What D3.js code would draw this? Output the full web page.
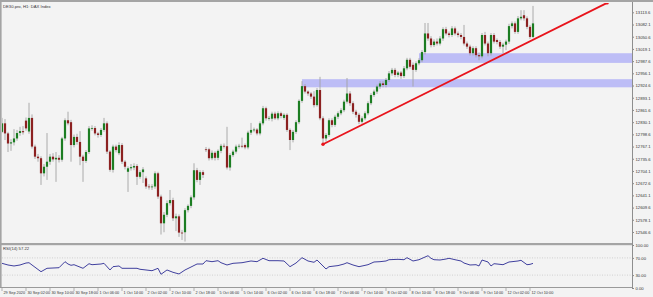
<!DOCTYPE html>
<html>
<head>
<meta charset="utf-8">
<script src="https://cdn.jsdelivr.net/npm/d3@7"></script>
<style>
body { margin: 0; background: #f3f3f3; }
svg { display: block; }
text { font-family: "Liberation Sans", Arial, sans-serif; font-size: 4.2px; fill: #333; }
</style>
</head>
<body>
<svg id="chart" width="653" height="297"></svg>
<script>
// H1 candles, DE30 (DAX), 29 Sep - 12 Oct 2020
var opens = [
  12805,12827,12801,12775,12778,12788,12802,12807,12834,12806,
  12841,12767,12741,12737,12698,12715,12728,12741,12734,12738,
  12733,12788,12835,12830,12771,12792,12779,12741,12730,12753,
  12814,12815,12801,12797,12810,12827,12754,12707,12767,12750,
  12771,12728,12702,12711,12713,12717,12689,12701,12685,12664,
  12663,12664,12698,12638,12569,12591,12621,12629,12582,12587,
  12545,12546,12603,12614,12636,12706,12681,12701,12760,12760,
  12737,12751,12738,12756,12769,12768,12713,12745,12754,12767,
  12769,12771,12765,12803,12810,12811,12801,12827,12866,12840,
  12839,12852,12840,12853,12841,12849,12810,12784,12805,12830,
  12885,12923,12909,12904,12896,12874,12913,12840,12788,12797,
  12835,12823,12844,12853,12861,12883,12904,12879,12857,12849,
  12831,12840,12853,12879,12900,12909,12922,12930,12926,12939,
  12956,12965,12952,12958,12949,12969,12991,12978,12965,12982,
  12990,13011,13059,13046,13029,13038,13033,13046,13070,13059,
  13055,13072,13059,13055,13050,13033,13025,13008,13021,13003,
  13000,13055,13033,13008,13055,13042,13037,13025,13030,13038,
  13078,13085,13063,13098,13106,13098,13076,13050
];
var highs = [
  12841,12838,12805,12786,12812,12810,12818,12820,12842,12880,
  12850,12772,12748,12742,12722,12802,12748,12750,12753,12745,
  12792,12840,12857,12836,12798,12800,12807,12746,12758,12820,
  12822,12820,12805,12815,12841,12832,12758,12772,12772,12778,
  12776,12732,12716,12722,12724,12722,12706,12714,12690,12670,
  12670,12703,12702,12643,12598,12628,12655,12635,12594,12592,
  12552,12608,12618,12641,12724,12712,12706,12706,12766,12764,
  12757,12755,12760,12774,12775,12818,12750,12759,12772,12774,
  12790,12775,12808,12828,12816,12815,12832,12872,12870,12846,
  12857,12857,12858,12857,12853,12853,12814,12810,12835,12889,
  12936,12928,12912,12908,12910,12918,12947,12845,12802,12840,
  12840,12849,12858,12866,12888,12944,12910,12884,12862,12854,
  12845,12858,12884,12905,12914,12927,12936,12936,12944,12962,
  12970,12970,12962,12962,12975,12996,12996,12984,12987,12995,
  13016,13086,13086,13052,13044,13046,13052,13075,13076,13064,
  13078,13077,13064,13060,13081,13038,13030,13026,13026,13010,
  13060,13063,13038,13060,13060,13046,13042,13035,13043,13084,
  13090,13090,13104,13119,13119,13103,13081,13130
];
var lows = [
  12802,12784,12753,12756,12770,12782,12795,12798,12808,12800,
  12762,12735,12728,12668,12690,12681,12720,12728,12676,12726,
  12728,12782,12822,12728,12765,12772,12719,12676,12725,12748,
  12808,12796,12790,12792,12805,12748,12702,12700,12752,12745,
  12722,12708,12650,12705,12706,12668,12684,12673,12658,12656,
  12655,12658,12632,12540,12546,12585,12615,12575,12549,12534,
  12526,12522,12597,12608,12630,12675,12668,12686,12753,12731,
  12732,12731,12732,12750,12762,12708,12705,12740,12749,12762,
  12763,12760,12760,12797,12804,12796,12796,12822,12834,12834,
  12832,12836,12835,12840,12836,12805,12758,12778,12800,12825,
  12880,12904,12898,12890,12868,12870,12835,12776,12780,12792,
  12817,12818,12838,12848,12856,12878,12872,12851,12842,12825,
  12826,12835,12848,12874,12895,12903,12916,12920,12920,12934,
  12950,12946,12946,12942,12944,12964,12968,12922,12960,12977,
  12985,13005,13040,13023,13024,13028,13028,13040,13054,13049,
  13050,13054,13049,13044,13028,13019,13002,13002,12997,12990,
  12995,13028,13000,13002,13033,13031,13019,13008,13016,13032,
  13072,13058,13058,13093,13092,13070,13045,13047
];
var closes = [
  12827,12801,12775,12778,12788,12802,12807,12804,12814,12841,
  12767,12741,12737,12698,12715,12728,12741,12734,12738,12733,
  12788,12835,12827,12771,12792,12779,12741,12730,12753,12814,
  12815,12801,12797,12810,12827,12754,12707,12767,12758,12771,
  12728,12715,12711,12714,12717,12689,12701,12708,12664,12663,
  12664,12698,12638,12569,12591,12621,12629,12582,12587,12545,
  12543,12603,12614,12636,12706,12681,12701,12694,12759,12737,
  12751,12738,12756,12769,12768,12713,12745,12754,12767,12769,
  12768,12765,12803,12810,12811,12801,12827,12866,12840,12841,
  12852,12840,12853,12846,12849,12810,12784,12805,12830,12885,
  12923,12909,12904,12896,12874,12913,12840,12788,12797,12835,
  12823,12844,12853,12861,12883,12904,12879,12857,12849,12831,
  12840,12853,12879,12900,12909,12922,12930,12926,12939,12956,
  12965,12952,12958,12949,12969,12991,12973,12965,12982,12990,
  13011,13059,13046,13029,13038,13033,13046,13070,13059,13055,
  13072,13059,13055,13050,13033,13025,13008,13021,13003,13000,
  13055,13033,13008,13055,13038,13037,13025,13030,13038,13078,
  13085,13063,13098,13102,13098,13076,13050,13085
];

// RSI(14) read at these bars
var rsiBars = [0,2,4,6,8,9,10,13,15,17,19,21,22,23,24,27,29,30,33,34,36,37,39,40,43,45,46,48,50,52,
  53,55,57,59,61,63,65,67,68,70,72,73,75,77,80,83,85,87,89,92,94,96,98,100,102,104,105,108,109,112,
  114,115,117,119,122,124,126,128,129,132,134,135,137,139,142,143,144,146,148,149,151,153,154,156,158,
  159,160,162,163,164,165,167,169,170,172,173,175,176,177];
var rsiValues = [57.4,53.5,51.2,53.5,58.1,58.8,53.5,37.9,45.8,46.5,47.2,61.2,55.8,52.8,54.2,45.8,56.5,54.2,55.8,57.4,
  41.9,49.6,51.2,45.8,45.8,45.8,43.5,41.9,40.2,45.8,31.9,41.9,36.5,32.6,41.9,48.8,55.8,55.8,63.5,61.2,
  63.5,58.8,53.5,57.4,58.8,62.8,61.2,69.1,63.5,63.5,62.8,49.6,58.1,70.5,62.8,59.8,65.1,44.2,49.6,52.1,
  55.8,58.8,53.5,49.6,54.2,60.5,61.2,62.8,65.8,66.7,65.8,70.5,62.8,65.8,75.1,69.1,65.8,65.1,67.4,69.1,
  65.8,62.8,58.1,53.5,54.2,51.2,65.1,60.5,51.2,56.5,55.8,54.2,60.5,61.2,62.8,64.4,54.2,55.0,57.22];

var priceTicks = [13113.6,13082.1,13050.6,13019.1,12987.6,12956.1,12924.6,12893.1,12861.6,12830.1,
  12798.6,12767.1,12735.6,12704.1,12672.6,12641.1,12609.6,12578.1,12546.6];
var rsiTicks = [100, 70, 30, 0];
var rsiLevels = [70, 30];
var timeLabels = ["29 Sep 2020","30 Sep 02:00","30 Sep 10:00","30 Sep 18:00","1 Oct 06:00","1 Oct 14:00",
  "2 Oct 02:00","2 Oct 10:00","2 Oct 18:00","5 Oct 06:00","5 Oct 14:00","6 Oct 02:00","6 Oct 10:00",
  "6 Oct 18:00","7 Oct 06:00","7 Oct 14:00","8 Oct 02:00","8 Oct 10:00","8 Oct 18:00","9 Oct 06:00",
  "9 Oct 14:00","12 Oct 02:00","12 Oct 10:00"];
var labelStep = 8;

// supply/demand zones: start bar, top, bottom
var zoneStarts = [139, 100];
var zoneTops = [13008, 12941];
var zoneBottoms = [12983, 12920];

// trend line: bar positions and prices
var trendBars = [107, 201.7];
var trendPrices = [12773, 13138];

var W = 653, H = 297;
var axisX = 632;
var mainTop = 3, mainBottom = 244;
var rsiTop = 245, rsiBottom = 288;

var svg = d3.select("#chart");

var x = d3.scaleLinear().domain([0, 177]).range([2, 533]);
var y = d3.scaleLinear().domain([12515.6, 13137.6]).range([mainBottom, mainTop]);
var yRsi = d3.scaleLinear().domain([0, 100]).range([rsiBottom, rsiTop]);

svg.append("rect").attr("width", W).attr("height", H).attr("fill", "#f3f3f3");

svg.append("clipPath").attr("id", "mainclip")
  .append("rect").attr("x", 2).attr("y", mainTop).attr("width", axisX - 2).attr("height", mainBottom - mainTop);

var main = svg.append("g").attr("clip-path", "url(#mainclip)");

// zones run to the right edge
main.selectAll(".zone").data(zoneStarts).enter().append("rect")
  .attr("x", function(d) { return x(d); })
  .attr("y", function(d, i) { return y(zoneTops[i]); })
  .attr("width", function(d) { return axisX - x(d); })
  .attr("height", function(d, i) { return y(zoneBottoms[i]) - y(zoneTops[i]); })
  .attr("fill", "#bdbdf6");

var idx = d3.range(opens.length);

main.selectAll(".wick").data(idx).enter().append("line")
  .attr("x1", function(i) { return x(i); })
  .attr("x2", function(i) { return x(i); })
  .attr("y1", function(i) { return y(highs[i]); })
  .attr("y2", function(i) { return y(lows[i]); })
  .attr("stroke", "#a3a3a3")
  .attr("stroke-width", 0.9);

main.selectAll(".body").data(idx).enter().append("rect")
  .attr("x", function(i) { return x(i) - 1.1; })
  .attr("width", 2.2)
  .attr("y", function(i) { return y(Math.max(opens[i], closes[i])); })
  .attr("height", function(i) { return Math.max(0.8, Math.abs(y(opens[i]) - y(closes[i]))); })
  .attr("fill", function(i) { return closes[i] >= opens[i] ? "#1c7d22" : "#8c2121"; });

// trend line
main.append("line")
  .attr("x1", x(trendBars[0])).attr("y1", y(trendPrices[0]))
  .attr("x2", x(trendBars[1])).attr("y2", y(trendPrices[1]))
  .attr("stroke", "#e8141c").attr("stroke-width", 1.8);
main.selectAll(".tdot").data(trendBars).enter().append("circle")
  .attr("cx", function(d) { return x(d); })
  .attr("cy", function(d, i) { return y(trendPrices[i]); })
  .attr("r", 1.7).attr("fill", "#e8141c");

svg.append("text").attr("x", 3).attr("y", 7.5).text("DE30.pro, H1:  DAX Index");

// price axis
var yAxis = svg.append("g").attr("transform", "translate(" + axisX + ",0)")
  .call(d3.axisRight(y).tickValues(priceTicks).tickSize(2).tickPadding(1.5)
    .tickFormat(function(d) { return d.toFixed(1); }));
yAxis.select(".domain").remove();
yAxis.selectAll("line").attr("stroke", "#888");
yAxis.selectAll("text").attr("fill", "#333").style("font-size", "4.2px");

// RSI pane
svg.selectAll(".lvl").data(rsiLevels).enter().append("line")
  .attr("x1", 2).attr("x2", axisX)
  .attr("y1", function(d) { return yRsi(d); }).attr("y2", function(d) { return yRsi(d); })
  .attr("stroke", "#b8b8b8").attr("stroke-width", 0.6).attr("stroke-dasharray", "1,1.5");

var rsiLine = d3.line()
  .x(function(d, i) { return x(rsiBars[i]); })
  .y(function(d) { return yRsi(d); });
svg.append("path").datum(rsiValues).attr("d", rsiLine)
  .attr("fill", "none").attr("stroke", "#2b2b94").attr("stroke-width", 0.9);

svg.append("text").attr("x", 3).attr("y", 249.5).text("RSI(14) 57.22");

var rAxis = svg.append("g").attr("transform", "translate(" + axisX + ",0)")
  .call(d3.axisRight(yRsi).tickValues(rsiTicks).tickSize(2).tickPadding(1.5)
    .tickFormat(function(d) { return d.toFixed(2); }));
rAxis.select(".domain").remove();
rAxis.selectAll("line").attr("stroke", "#888");
rAxis.selectAll("text").attr("fill", "#333").style("font-size", "4.2px");

// frame
svg.append("rect").attr("x", 0).attr("y", 0).attr("width", W).attr("height", 2).attr("fill", "#a4a4a4");
svg.append("rect").attr("x", 0).attr("y", 0).attr("width", 1.6).attr("height", rsiBottom).attr("fill", "#a4a4a4");
svg.append("rect").attr("x", 0).attr("y", 243).attr("width", axisX).attr("height", 2.2).attr("fill", "#a4a4a4");
svg.append("line").attr("x1", 0).attr("x2", axisX + 0.5).attr("y1", rsiBottom - 0.5).attr("y2", rsiBottom - 0.5)
  .attr("stroke", "#9a9a9a").attr("stroke-width", 1);
svg.append("line").attr("x1", axisX + 0.5).attr("x2", axisX + 0.5).attr("y1", 2).attr("y2", rsiBottom)
  .attr("stroke", "#8e8e8e").attr("stroke-width", 1);

// time axis, a label every 8 bars
var tg = svg.selectAll(".tl").data(timeLabels).enter().append("g")
  .attr("transform", function(d, i) { return "translate(" + x(i * labelStep) + "," + rsiBottom + ")"; });
tg.append("line").attr("x1", 0).attr("x2", 0).attr("y1", 0).attr("y2", 3)
  .attr("stroke", "#888").attr("stroke-width", 0.6);
tg.append("text").attr("x", 1.5).attr("y", 5.8).style("font-size", "3.8px").text(function(d) { return d; });
</script>
</body>
</html>
